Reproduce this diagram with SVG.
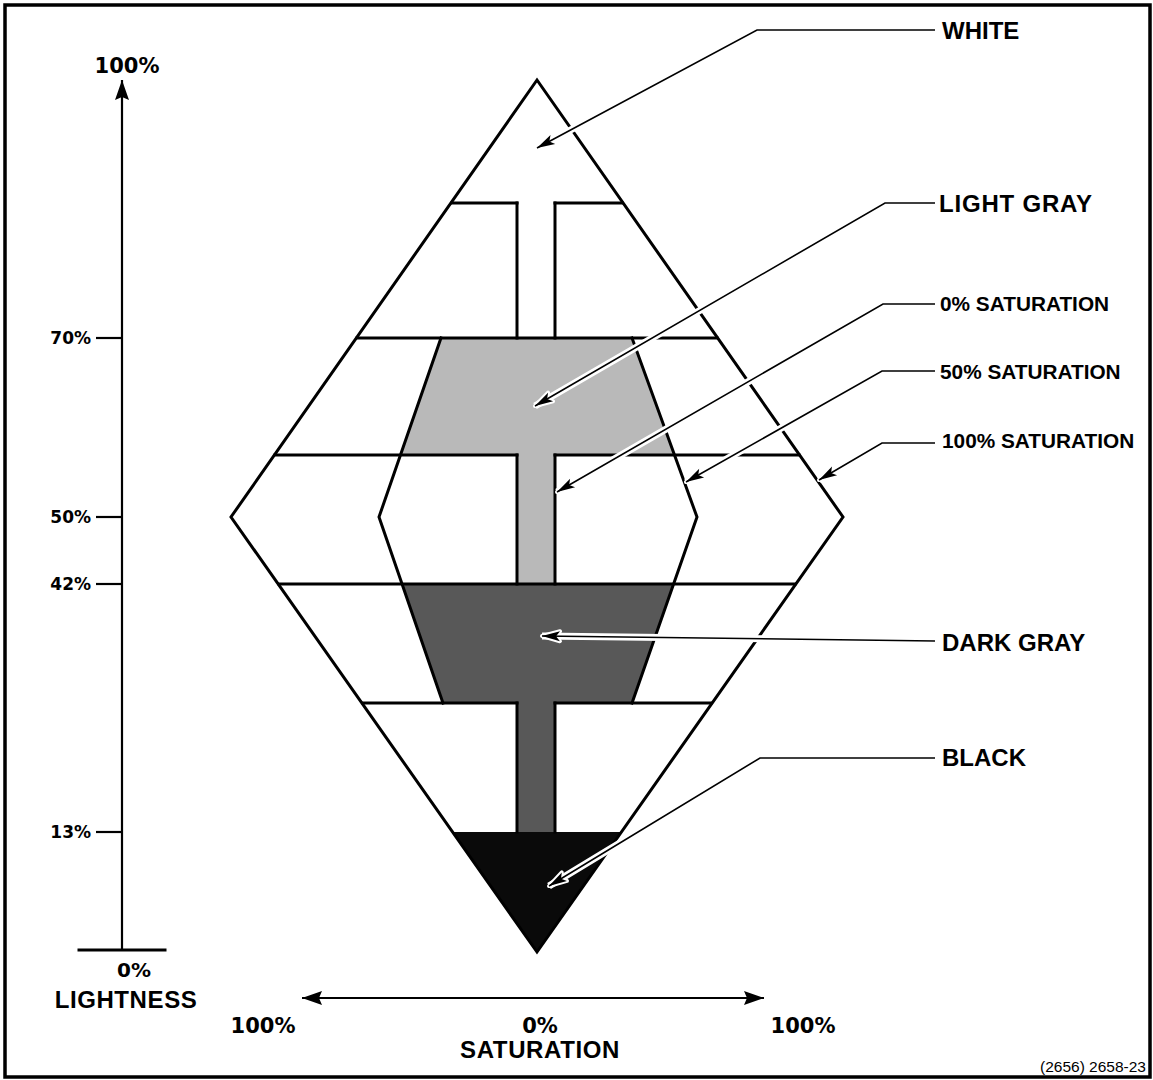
<svg xmlns="http://www.w3.org/2000/svg" width="1153" height="1080" viewBox="0 0 1153 1080">
<style>
.ln{stroke:#000;stroke-width:3;fill:none;stroke-linecap:square}
.ax{stroke:#000;stroke-width:2.2;fill:none}
.lead{stroke:#000;stroke-width:1.6;fill:none}
.halo{stroke:#fff;stroke-width:7;fill:none}
.lbl{font-family:"Liberation Sans",Arial,sans-serif;font-weight:bold;fill:#000}
.num{font-family:"DejaVu Sans",sans-serif;font-weight:bold;fill:#000}
.big{font-size:24px}
.mid{font-size:20.8px}
</style>
<defs>
<marker id="ah" markerUnits="userSpaceOnUse" markerWidth="20" markerHeight="10" refX="18" refY="5" orient="auto" overflow="visible">
<path d="M0,0 L18,5 L0,10 L4,5 z" fill="#000"/>
</marker>
<marker id="ahw" markerUnits="userSpaceOnUse" markerWidth="20" markerHeight="10" refX="18" refY="5" orient="auto" overflow="visible">
<path d="M0,0 L18,5 L0,10 L4,5 z" fill="#fff" stroke="#fff" stroke-width="4" stroke-linejoin="round"/>
</marker>
<marker id="axh" markerUnits="userSpaceOnUse" markerWidth="22" markerHeight="14" refX="20" refY="7" orient="auto" overflow="visible">
<path d="M0,0 L20,7 L0,14 L3,7 z" fill="#000"/>
</marker>
</defs>

<rect x="5" y="5" width="1145" height="1072" fill="#fff" stroke="#000" stroke-width="3.5"/>

<g id="lightness-axis">
<line class="ax" x1="122" y1="950" x2="122" y2="80" marker-end="url(#axh)"/>
<line class="ln" x1="79" y1="950" x2="165" y2="950"/>
<line class="ax" x1="96" y1="338" x2="122" y2="338"/>
<line class="ax" x1="96" y1="517" x2="122" y2="517"/>
<line class="ax" x1="96" y1="584" x2="122" y2="584"/>
<line class="ax" x1="96" y1="832" x2="122" y2="832"/>
<text class="num" x="127" y="73" font-size="21" text-anchor="middle">100%</text>
<text class="num" x="91" y="344" font-size="17" text-anchor="end">70%</text>
<text class="num" x="91" y="523" font-size="17" text-anchor="end">50%</text>
<text class="num" x="91" y="590" font-size="17" text-anchor="end">42%</text>
<text class="num" x="91" y="838" font-size="17" text-anchor="end">13%</text>
<text class="num" x="134" y="977" font-size="20" text-anchor="middle">0%</text>
<text class="lbl big" x="126" y="1008" text-anchor="middle" letter-spacing="0.6">LIGHTNESS</text>
</g>

<g id="saturation-axis">
<line class="ax" x1="540" y1="998" x2="302" y2="998" marker-end="url(#axh)"/>
<line class="ax" x1="540" y1="998" x2="764" y2="998" marker-end="url(#axh)"/>
<text class="num" x="263" y="1033" font-size="21" text-anchor="middle">100%</text>
<text class="num" x="540" y="1033" font-size="21" text-anchor="middle">0%</text>
<text class="num" x="803" y="1033" font-size="21" text-anchor="middle">100%</text>
<text class="lbl big" x="540" y="1058" text-anchor="middle" letter-spacing="0.6">SATURATION</text>
</g>

<g id="solid">
<g id="light-gray">
<polygon points="441,338 632,338 674,455 555,455 555,584 517,584 517,455 401,455" fill="#b9b9b9"/>
</g>
<g id="dark-gray">
<polygon points="402,584 674,584 632,703 555,703 555,832 517,832 517,703 443,703" fill="#585858"/>
</g>
<g id="black">
<polygon points="453,832 621,832 537,952" fill="#0a0a0a"/>
</g>
<g id="white">
<polygon class="ln" points="537,80 843,517 537,952 231,517" stroke-linejoin="miter"/>
<polyline class="ln" points="441,338 379,517 443,703"/>
<polyline class="ln" points="632,338 697,517 632,703"/>
<line class="ln" x1="452" y1="203" x2="517" y2="203"/>
<line class="ln" x1="555" y1="203" x2="622" y2="203"/>
<line class="ln" x1="357" y1="338" x2="717" y2="338"/>
<line class="ln" x1="275" y1="455" x2="517" y2="455"/>
<line class="ln" x1="555" y1="455" x2="799" y2="455"/>
<line class="ln" x1="279" y1="584" x2="795" y2="584"/>
<line class="ln" x1="363" y1="703" x2="517" y2="703"/>
<line class="ln" x1="555" y1="703" x2="711" y2="703"/>
<line class="ln" x1="517" y1="203" x2="517" y2="338"/>
<line class="ln" x1="555" y1="203" x2="555" y2="338"/>
<line class="ln" x1="517" y1="455" x2="517" y2="584"/>
<line class="ln" x1="555" y1="455" x2="555" y2="584"/>
<line class="ln" x1="517" y1="703" x2="517" y2="832"/>
<line class="ln" x1="555" y1="703" x2="555" y2="832"/>
</g>
</g>

<g id="connectors">
<g id="halos">
<path class="halo" d="M935,30 L757,30 L537,148" marker-end="url(#ahw)"/>
<path class="halo" d="M935,203 L885,203 L535,406" marker-end="url(#ahw)"/>
<path class="halo" d="M935,304 L883,304 L557,492" marker-end="url(#ahw)"/>
<path class="halo" d="M935,371 L882,371 L686,482" marker-end="url(#ahw)"/>
<path class="halo" d="M935,443 L882,443 L819,480" marker-end="url(#ahw)"/>
<path class="halo" d="M935,641 L542,636" marker-end="url(#ahw)"/>
<path class="halo" d="M935,758 L760,758 L549,886" marker-end="url(#ahw)"/>
</g>
<path class="lead" d="M935,30 L757,30 L537,148" marker-end="url(#ah)"/>
<path class="lead" d="M935,203 L885,203 L535,406" marker-end="url(#ah)"/>
<path class="lead" d="M935,304 L883,304 L557,492" marker-end="url(#ah)"/>
<path class="lead" d="M935,371 L882,371 L686,482" marker-end="url(#ah)"/>
<path class="lead" d="M935,443 L882,443 L819,480" marker-end="url(#ah)"/>
<path class="lead" d="M935,641 L542,636" marker-end="url(#ah)"/>
<path class="lead" d="M935,758 L760,758 L549,886" marker-end="url(#ah)"/>
</g>

<g id="labels">
<text class="lbl big" x="942" y="39">WHITE</text>
<text class="lbl big" x="939" y="212" letter-spacing="0.8">LIGHT GRAY</text>
<text class="lbl mid" x="940" y="311">0% SATURATION</text>
<text class="lbl mid" x="940" y="379">50% SATURATION</text>
<text class="lbl mid" x="942" y="448">100% SATURATION</text>
<text class="lbl big" x="942" y="651">DARK GRAY</text>
<text class="lbl big" x="942" y="766">BLACK</text>
</g>

<text x="1146" y="1072" font-family="Liberation Sans, Arial, sans-serif" font-size="15.5" text-anchor="end">(2656) 2658-23</text>
</svg>
